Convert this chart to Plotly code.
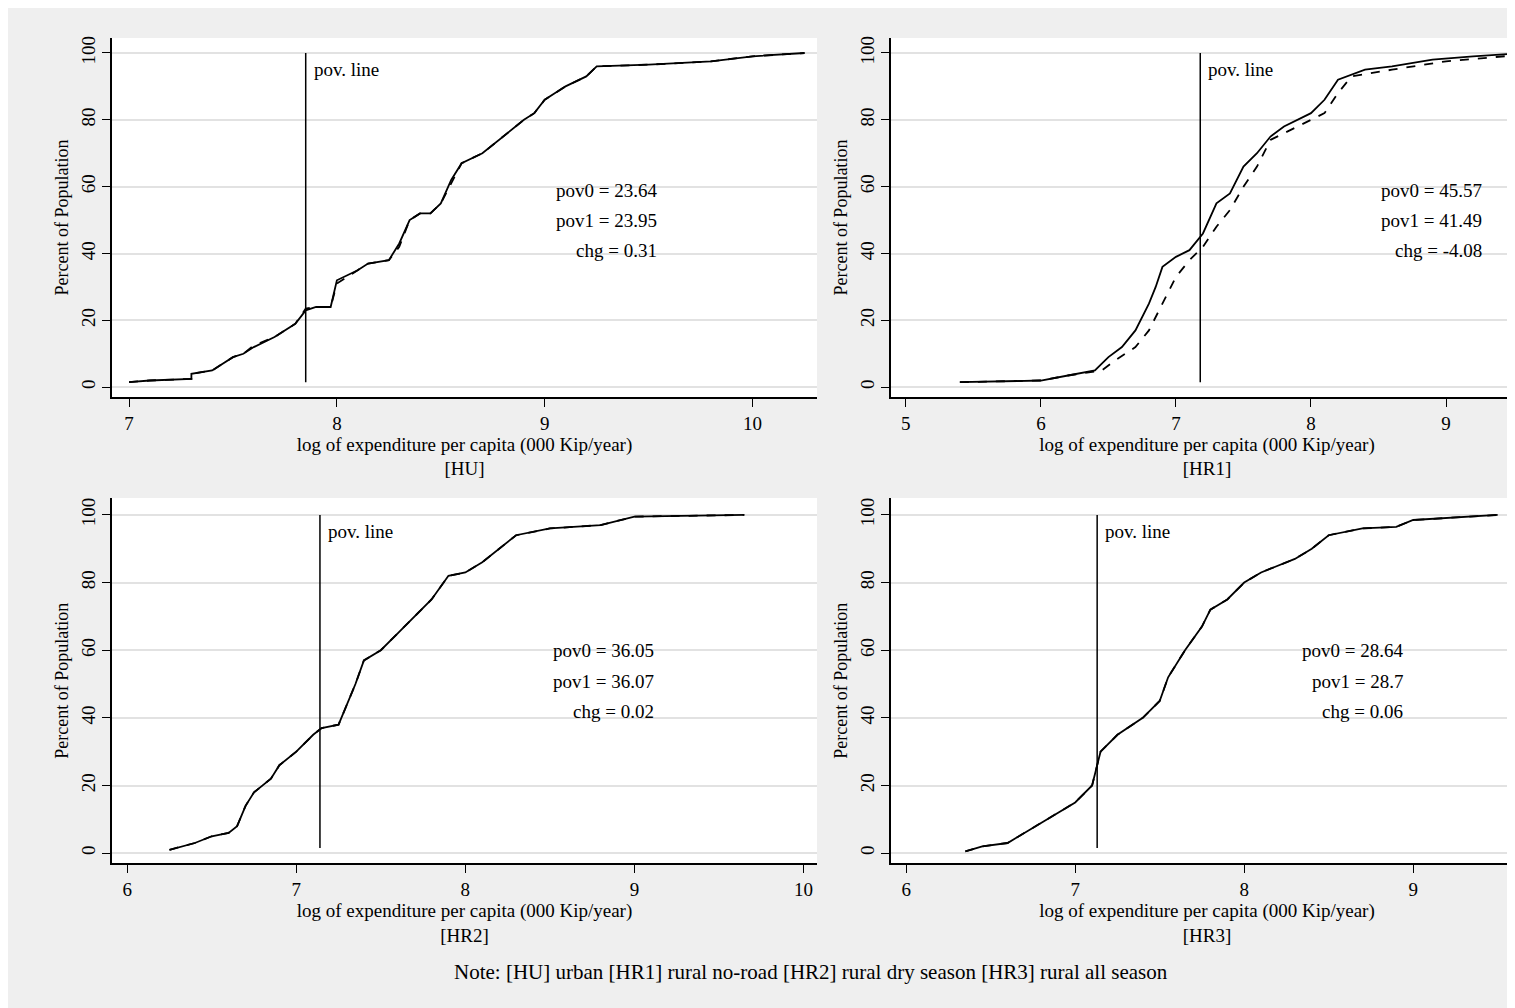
import plotly.graph_objects as go

# --- data (x = log expenditure, y = percent of population) ---
hu_x = [7.0, 7.1, 7.3, 7.3, 7.4, 7.5, 7.55, 7.6, 7.7, 7.8, 7.85, 7.9, 7.97, 8.0, 8.1, 8.15, 8.25, 8.3,
        8.35, 8.4, 8.45, 8.5, 8.55, 8.6, 8.7, 8.8, 8.9, 8.95, 9.0, 9.05, 9.1, 9.2, 9.25, 9.5, 9.8, 10.0, 10.25]
hu_y0 = [1.5, 2, 2.5, 4, 5, 9, 10, 12, 15, 19, 23, 24, 24, 32, 35, 37, 38, 43,
         50, 52, 52, 55, 62, 67, 70, 75, 80, 82, 86, 88, 90, 93, 96, 96.5, 97.5, 99, 100]
hu_y1 = [1.5, 2, 2.5, 4, 5, 9, 10, 12.5, 15, 19, 23.5, 24, 24, 31, 35, 37, 38, 42,
         50, 52, 52, 55, 61, 67, 70, 75, 80, 82, 86, 88, 90, 93, 96, 96.5, 97.5, 99, 100]

hr1_x0 = [5.4, 6.0, 6.2, 6.4, 6.5, 6.6, 6.7, 6.8, 6.85, 6.9, 7.0, 7.1, 7.2, 7.3, 7.4, 7.5, 7.6, 7.7,
          7.8, 7.9, 8.0, 8.1, 8.2, 8.4, 8.6, 8.9, 9.2, 9.57]
hr1_y0 = [1.5, 2, 3.5, 5, 9, 12, 17, 25, 30, 36, 39, 41, 46, 55, 58, 66, 70, 75,
          78, 80, 82, 86, 92, 95, 96, 98, 99, 100]
hr1_x1 = [5.4, 6.0, 6.2, 6.45, 6.55, 6.7, 6.8, 6.9, 7.0, 7.1, 7.2, 7.3, 7.4, 7.5, 7.6, 7.7, 7.8,
          8.0, 8.1, 8.2, 8.3, 8.6, 9.0, 9.57]
hr1_y1 = [1.5, 2, 3.5, 5, 8, 12, 17, 25, 33, 38, 42, 48, 53, 60, 66, 74, 76,
          80, 82, 88, 93, 95, 97.5, 99.5]

hr2_x = [6.25, 6.4, 6.5, 6.6, 6.65, 6.7, 6.75, 6.85, 6.9, 7.0, 7.1, 7.15, 7.25, 7.3, 7.35, 7.4, 7.5,
         7.6, 7.7, 7.8, 7.9, 8.0, 8.1, 8.2, 8.3, 8.5, 8.8, 9.0, 9.65]
hr2_y = [1, 3, 5, 6, 8, 14, 18, 22, 26, 30, 35, 37, 38, 44, 50, 57, 60,
         65, 70, 75, 82, 83, 86, 90, 94, 96, 97, 99.5, 100]

hr3_x = [6.35, 6.45, 6.6, 6.7, 6.8, 6.9, 7.0, 7.1, 7.15, 7.25, 7.4, 7.5, 7.55, 7.65, 7.75, 7.8, 7.9,
         8.0, 8.1, 8.3, 8.4, 8.5, 8.7, 8.9, 9.0, 9.5]
hr3_y = [0.5, 2, 3, 6, 9, 12, 15, 20, 30, 35, 40, 45, 52, 60, 67, 72, 75,
         80, 83, 87, 90, 94, 96, 96.5, 98.5, 100]

panels = ["[HU]", "[HR1]", "[HR2]", "[HR3]"]
pov_lines = [7.85, 7.18, 7.14, 7.13]
pov0 = ["23.64", "45.57", "36.05", "28.64"]
pov1 = ["23.95", "41.49", "36.07", "28.7"]
chg = ["0.31", "-4.08", "0.02", "0.06"]
x_ranges = [[6.918, 10.31], [4.89, 9.57], [5.91, 10.08], [5.91, 9.65]]
x_ticks = [[7, 8, 9, 10], [5, 6, 7, 8, 9], [6, 7, 8, 9, 10], [6, 7, 8, 9]]
label_x = [9.55, 9.28, 9.13, 8.95]
y_ticks = [0, 20, 40, 60, 80, 100]

curves = [
    (hu_x, hu_y0, hu_x, hu_y1),
    (hr1_x0, hr1_y0, hr1_x1, hr1_y1),
    (hr2_x, hr2_y, hr2_x, hr2_y),
    (hr3_x, hr3_y, hr3_x, hr3_y),
]

FONT = "Liberation Serif, Times New Roman, serif"
FS = 19
W, H = 1515, 1008
x_domains = [[104 / W, 809 / W], [883 / W, 1.0], [104 / W, 809 / W], [883 / W, 1.0]]
y_domains = [[1 - 388 / H, 1 - 28 / H], [1 - 388 / H, 1 - 28 / H],
             [1 - 855 / H, 1 - 489 / H], [1 - 855 / H, 1 - 489 / H]]
y_ranges = [[-3, 104.5], [-3, 104.5], [-3, 105], [-3, 105]]

fig = go.Figure()
layout = {}
annotations = []

for i in range(4):
    sx = "" if i == 0 else str(i + 1)
    xa, ya = "x" + sx, "y" + sx
    x0, y0, x1, y1 = curves[i]
    # dashed first, solid on top
    fig.add_trace(go.Scatter(x=x1, y=y1, mode="lines", line=dict(color="black", width=1.8, dash="dash"),
                             xaxis=xa, yaxis=ya, showlegend=False))
    fig.add_trace(go.Scatter(x=x0, y=y0, mode="lines", line=dict(color="black", width=1.8),
                             xaxis=xa, yaxis=ya, showlegend=False))
    # poverty line
    fig.add_trace(go.Scatter(x=[pov_lines[i], pov_lines[i]], y=[1.5, 100], mode="lines",
                             line=dict(color="black", width=1.5), xaxis=xa, yaxis=ya, showlegend=False))

    layout["xaxis" + sx] = dict(
        domain=x_domains[i], range=x_ranges[i], anchor=ya, tickvals=x_ticks[i],
        showgrid=False, zeroline=False, showline=True, linecolor="black", linewidth=1.5,
        ticks="outside", ticklen=8, tickcolor="black",
        tickfont=dict(family=FONT, size=FS, color="black"),
        title=dict(text="log of expenditure per capita (000 Kip/year)<br>" + panels[i],
                   font=dict(family=FONT, size=FS, color="black"), standoff=4),
    )
    layout["yaxis" + sx] = dict(
        domain=y_domains[i], range=y_ranges[i], anchor=xa, tickvals=y_ticks, tickangle=-90,
        showgrid=True, gridcolor="#e2e2e2", gridwidth=1.5, zeroline=False,
        showline=True, linecolor="black", linewidth=1.5,
        ticks="outside", ticklen=8, tickcolor="black",
        tickfont=dict(family=FONT, size=FS, color="black"),
        title=dict(text="Percent of Population", font=dict(family=FONT, size=FS - 1, color="black"), standoff=4),
    )

    annotations.append(dict(x=pov_lines[i], y=95, xref=xa, yref=ya, text="pov. line", showarrow=False,
                            xanchor="left", xshift=6, font=dict(family=FONT, size=FS, color="black")))
    for txt, yy in zip(["pov0 = " + pov0[i], "pov1 = " + pov1[i], "chg = " + chg[i]], [59, 50, 41]):
        annotations.append(dict(x=label_x[i], y=yy + (0.8 if i >= 2 else 0), xref=xa, yref=ya, text=txt,
                                showarrow=False, xanchor="right",
                                font=dict(family=FONT, size=FS, color="black")))

annotations.append(dict(x=0.53, y=1 - 978 / H, xref="paper", yref="paper",
                        text="Note: [HU] urban [HR1] rural no-road [HR2] rural dry season [HR3] rural all season",
                        showarrow=False, font=dict(family=FONT, size=21, color="black")))

fig.update_layout(
    width=W, height=H,
    margin=dict(l=0, r=0, t=0, b=0),
    paper_bgcolor="#efefef",
    plot_bgcolor="white",
    annotations=annotations,
    **layout,
)

fig.write_html("out.html")
